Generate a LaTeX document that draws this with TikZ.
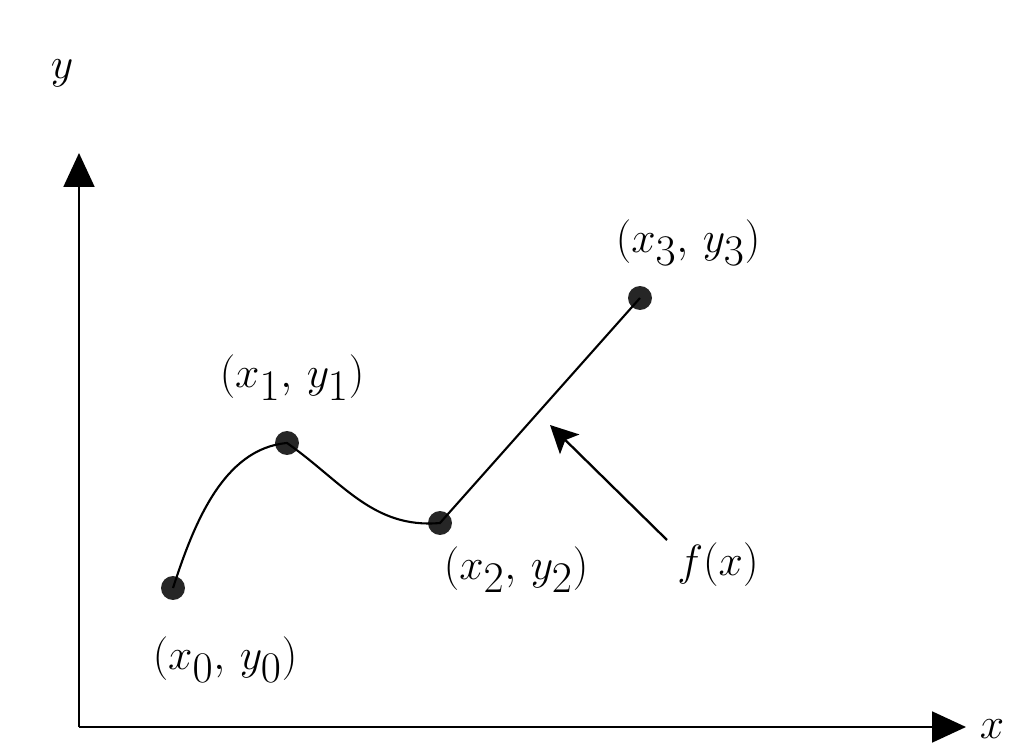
\documentclass[tikz,border=0pt]{standalone}
\usepackage{tikz}
\usetikzlibrary{arrows.meta, positioning}
\tikzstyle{axis} = [
    line width=1.1pt,
    -{Triangle[width=0.62cm,length=0.68cm]}
]
\tikzstyle{knot} = [
    circle,
    fill=black!85,
    inner sep=0pt,
    minimum size=0.48cm
]
\tikzstyle{curve} = [line width=1.2pt]
\tikzstyle{label} = [
    font=\fontsize{34}{40}\selectfont,
    inner sep=0pt
]
\tikzstyle{pointer} = [line width=1.3pt,-{Stealth[width=0.55cm,length=0.55cm,inset=0.12cm]}]

\begin{document}
\begin{tikzpicture}[x=0.02cm,y=0.02cm]

\useasboundingbox (0,0) rectangle (1019,745);

\coordinate (origin) at (79,18);
\coordinate (ytip) at (79,592);
\coordinate (xtip) at (966,18);

\node (p0) [knot] at (173,157) {};
\node (p1) [knot] at (287,302) {};
\node (p2) [knot] at (440,222) {};
\node (p3) [knot] at (640,447) {};

\node (lab0) [label] at (225,85) {$(x_0,\,y_0)$};
\node (lab1) [label] at (292,367) {$(x_1,\,y_1)$};
\node (lab2) [label] at (516,175) {$(x_2,\,y_2)$};
\node (lab3) [label] at (688,502) {$(x_3,\,y_3)$};
\node (fx) [label] at (718,180) {$f(x)$};

\node (ylab) [label] at (62,672) {$y$};
\node (xlab) [label] at (992,16) {$x$};

\draw [axis] (origin) -- (ytip);
\draw [axis] (origin) -- (xtip);

\draw [curve] (p0.center) to[out=72,in=185,looseness=0.9] (p1.center)
    to[out=-35,in=185] (p2.center) -- (p3.center);

\coordinate (ftail) at (667,205);
\coordinate (fhead) at (550,320);
\draw [pointer] (ftail) -- (fhead);

\end{tikzpicture}
\end{document}
